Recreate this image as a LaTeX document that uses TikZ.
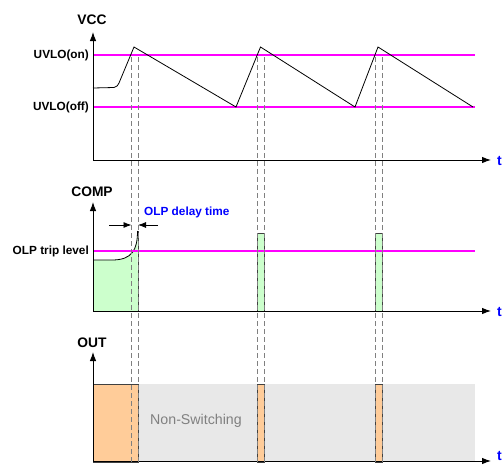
\documentclass[tikz,border=0pt]{standalone}
\usepackage{fontspec}
\setmainfont{Liberation Sans}
\usepackage{xcolor}
\usetikzlibrary{arrows.meta}
\definecolor{compgreen}{RGB}{204,255,204}
\definecolor{outorange}{RGB}{255,204,153}
\definecolor{nsgray}{RGB}{232,232,232}
\definecolor{levelpink}{RGB}{255,0,255}
\definecolor{tblue}{RGB}{0,0,255}
\begin{document}
\begin{tikzpicture}[x=1pt,y=-1pt,
		axis/.style={-{Latex[length=9pt,width=6.5pt]},line width=0.9pt},
		level/.style={levelpink,line width=1.6pt},
		guide/.style={black!50,dash pattern=on 5pt off 3pt,line width=0.7pt},
		lbl/.style={font=\bfseries\fontsize{11.8}{13}\selectfont,anchor=east,inner sep=2pt},
		title/.style={font=\bfseries\fontsize{13.8}{15}\selectfont,inner sep=0pt},
		tlbl/.style={font=\bfseries\fontsize{14}{15}\selectfont,text=tblue,anchor=west,inner sep=0pt},
		pulse/.style={draw=black!75,line width=0.8pt}]
	\useasboundingbox (0,0) rectangle (504,464);
	% VCC
	\coordinate (vo) at (93,160);
	\coordinate (vx) at (491,160);
	\coordinate (vy) at (93,32);
	\draw [level] (93,55) -- (475,55)
		  (93,107) -- (475,107);
	\draw [line width=0.8pt] (93,88) -- (114,87.5) .. controls (117,87) and (118,85) .. (119,83)
		  -- (134,47) -- (236,107) -- (260.5,47) -- (355,107) -- (378,47) -- (473,107);
	\draw [axis] (vo) -- (vx);
	\draw [axis] (vo) -- (vy);
	\node [title] (vcc) at (92,20) {VCC};
	\node [lbl] (uvloon) at (91,55) {UVLO(on)};
	\node [lbl] (uvlooff) at (91,107) {UVLO(off)};
	\node [tlbl] (tvcc) at (497,161) {t};
	% COMP
	\coordinate (co) at (93,311);
	\coordinate (cx) at (491,311);
	\coordinate (cy) at (93,202);
	\fill [compgreen] (93,311) -- (93,260) -- (112,260) .. controls (132,260) and (137.5,250) .. (137.5,231)
		  -- (138,311) -- cycle;
	\draw [line width=0.8pt] (93,260) -- (112,260) .. controls (132,260) and (137.5,250) .. (137.5,231);
	\draw [black!75,line width=0.8pt] (138,231) -- (138,311);
	\draw [pulse,fill=compgreen] (257.3,233) rectangle (264,311)
		  (375.7,233) rectangle (382.7,311);
	\draw [level] (93,251) -- (475,251);
	\draw [axis] (co) -- (cx);
	\draw [axis] (co) -- (cy);
	\node [title] (comp) at (92,192) {COMP};
	\node [lbl] (olptrip) at (91,251) {OLP trip level};
	\node [tlbl] (tcomp) at (497,312) {t};
	\coordinate (dl) at (109,225);
	\coordinate (dr) at (158,225);
	\draw [-{Latex[length=8pt,width=6pt]},line width=0.8pt] (dl) -- (131.5,225);
	\draw [-{Latex[length=8pt,width=6pt]},line width=0.8pt] (dr) -- (138,225);
	\node [font=\bfseries\fontsize{11.8}{13}\selectfont,text=tblue,anchor=west,inner sep=1pt] (olpdelay) at (143,212) {OLP delay time};
	% OUT
	\fill [nsgray] (138,384) rectangle (475,462);
	\draw [pulse,fill=outorange] (93,384) rectangle (138,462)
		  (257.3,384) rectangle (264,462)
		  (375.7,384) rectangle (382.7,462);
	\node [font=\fontsize{14.2}{16}\selectfont,text=black!50] (nonsw) at (196,421) {Non-Switching};
	\coordinate (oo) at (93,461);
	\coordinate (ox) at (491,461);
	\coordinate (oy) at (93,352);
	\draw [axis] (oo) -- (ox);
	\draw [axis] (oo) -- (oy);
	\node [title] (out) at (92,343) {OUT};
	\node [tlbl,anchor=base west] (tout) at (497,460.5) {t};
	% guides
	\foreach \gx in {131.5,138,257.3,264,375.7,382.7}
		\draw [guide] (\gx,57) -- (\gx,464);
\end{tikzpicture}
\end{document}
